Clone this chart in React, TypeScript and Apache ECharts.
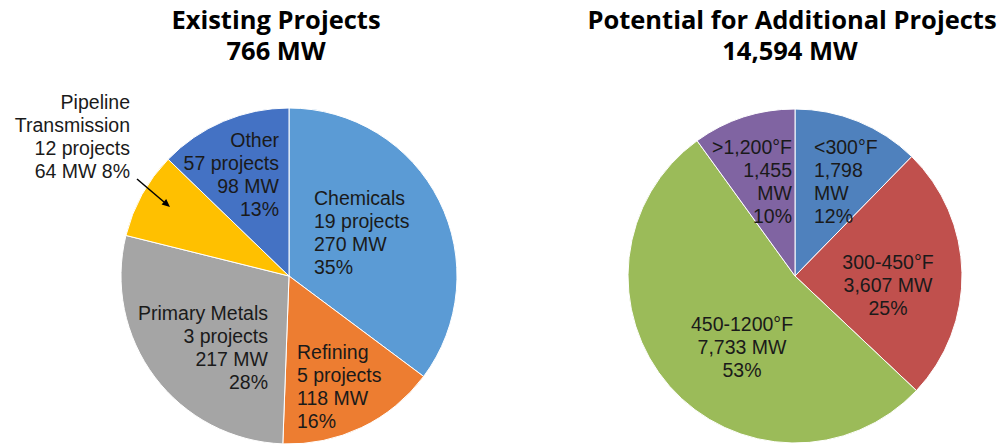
import React, { useEffect, useRef } from "react";
import * as echarts from "echarts";

// Existing projects
const existingCategories = ["Chemicals", "Refining", "Primary Metals", "Pipeline Transmission", "Other"];
const existingProjects = [19, 5, 3, 12, 57];
const existingMW = [270, 118, 217, 64, 98];
const existingPct = [35, 16, 28, 8, 13];

// Potential projects
const potentialCategories = ["<300°F", "300-450°F", "450-1200°F", ">1,200°F"];
const potentialMW = [1798, 3607, 7733, 1455];
const potentialPct = [12, 25, 53, 10];

const titleLeft = ["Existing Projects", "766 MW"];
const titleRight = ["Potential for Additional Projects", "14,594 MW"];

const fmt = (n: number) => n.toLocaleString("en-US");

export default function App() {
  const ref = useRef<HTMLDivElement>(null);
  useEffect(() => {
    document.body.style.margin = "0";
    const chart = echarts.init(ref.current!, null, { renderer: "svg" });

    const leftColors = ["#5B9BD5", "#ED7D31", "#A5A5A5", "#FFC000", "#4472C4"];
    const rightColors = ["#4F81BD", "#C0504D", "#9BBB59", "#8064A2"];

    // label layout: [x, y, align]
    const leftLabelPos: [number, number, string][] = [
      [314, 232, "left"],
      [297, 386, "left"],
      [268, 347, "right"],
      [130, 136, "right"],
      [279, 174, "right"],
    ];
    const rightLabelPos: [number, number, string][] = [
      [814, 181, "left"],
      [888, 285, "center"],
      [742, 347, "center"],
      [792, 181, "right"],
    ];

    const labelStyle = {
      show: true,
      position: "inside" as const,
      color: "#1a1a1a",
      fontFamily: "'Liberation Sans', Arial, sans-serif",
      fontSize: 19.5,
      lineHeight: 23,
    };

    const titleFont = "700 25.5px 'Open Sans', sans-serif";

    chart.setOption({
      animation: false,
      backgroundColor: "#ffffff",
      graphic: [
        { type: "text", z: 100, x: 276, y: 19, style: { text: titleLeft[0], font: titleFont, fill: "#000", align: "center", verticalAlign: "middle" } },
        { type: "text", z: 100, x: 276, y: 50, style: { text: titleLeft[1], font: titleFont, fill: "#000", align: "center", verticalAlign: "middle" } },
        { type: "text", z: 100, x: 792, y: 19, style: { text: titleRight[0], font: titleFont, fill: "#000", align: "center", verticalAlign: "middle" } },
        { type: "text", z: 100, x: 790, y: 50, style: { text: titleRight[1], font: titleFont, fill: "#000", align: "center", verticalAlign: "middle" } },
        { type: "line", z: 100, shape: { x1: 137, y1: 179, x2: 164, y2: 202 }, style: { stroke: "#000", lineWidth: 1.5 } },
        { type: "polygon", z: 100, shape: { points: [[170, 207], [161.6, 204.5], [166.2, 199.1]] }, style: { fill: "#000" } },
      ],
      series: [
        {
          type: "pie",
          center: [289, 276],
          radius: [0, 168],
          startAngle: 90,
          clockwise: true,
          avoidLabelOverlap: false,
          itemStyle: { borderColor: "#ffffff", borderWidth: 1 },
          label: {
            ...labelStyle,
            formatter: (p: any) => {
              const i = p.dataIndex;
              if (i === 3) {
                return `${existingCategories[i].replace(" ", "\n")}\n${existingProjects[i]} projects\n${existingMW[i]} MW ${existingPct[i]}%`;
              }
              return `${existingCategories[i]}\n${existingProjects[i]} projects\n${existingMW[i]} MW\n${existingPct[i]}%`;
            },
          },
          labelLine: { show: false },
          labelLayout: (p: any) => {
            const [x, y, align] = leftLabelPos[p.dataIndex];
            return { x, y, align, verticalAlign: "middle" };
          },
          data: existingCategories.map((name, i) => ({
            name,
            value: existingMW[i],
            itemStyle: { color: leftColors[i] },
            label: { align: leftLabelPos[i][2] },
          })),
        },
        {
          type: "pie",
          center: [795, 276],
          radius: [0, 167],
          startAngle: 90,
          clockwise: true,
          avoidLabelOverlap: false,
          itemStyle: { borderColor: "#ffffff", borderWidth: 1 },
          label: {
            ...labelStyle,
            formatter: (p: any) => {
              const i = p.dataIndex;
              if (i === 0 || i === 3) {
                return `${potentialCategories[i]}\n${fmt(potentialMW[i])}\nMW\n${potentialPct[i]}%`;
              }
              return `${potentialCategories[i]}\n${fmt(potentialMW[i])} MW\n${potentialPct[i]}%`;
            },
          },
          labelLine: { show: false },
          labelLayout: (p: any) => {
            const [x, y, align] = rightLabelPos[p.dataIndex];
            return { x, y, align, verticalAlign: "middle" };
          },
          data: potentialCategories.map((name, i) => ({
            name,
            value: potentialMW[i],
            itemStyle: { color: rightColors[i] },
            label: { align: rightLabelPos[i][2] },
          })),
        },
      ],
    });
    return () => chart.dispose();
  }, []);
  return <div ref={ref} style={{ width: 1008, height: 444 }} />;
}
